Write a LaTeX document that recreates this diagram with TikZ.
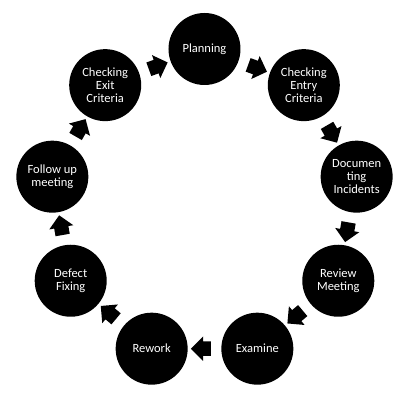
\documentclass[tikz,border=0pt]{standalone}
\usepackage{fontspec}
\setmainfont{Carlito}
\usetikzlibrary{calc,shapes.arrows}

\tikzset{
  stage/.style={circle, fill=black, text=white, minimum size=72pt, inner sep=0pt,
    align=center, font=\fontsize{12.5}{13}\selectfont},
  flow/.style={single arrow, fill=black, minimum height=20pt, inner xsep=0pt,
    inner ysep=7pt, single arrow head extend=5pt, single arrow tip angle=90}
}

\begin{document}
\begin{tikzpicture}[x=1pt,y=1pt]
\useasboundingbox (-204.5,-199.5) rectangle (213.5,203.5);

% Stages of the cycle
\node[stage] (plan) at (90:154.5) {Planning};
\node[stage] (entry) at (50:154.5) {Checking\\Entry\\Criteria};
\node[stage] (docu) at (10:154.5) {Documen\\ting\\Incidents};
\node[stage] (review) at (-30:154.5) {Review\\Meeting};
\node[stage] (exam) at (-70:154.5) {Examine};
\node[stage] (rework) at (-110:154.5) {Rework};
\node[stage] (fix) at (-150:154.5) {Defect\\Fixing};
\node[stage] (follow) at (170:154.5) {Follow up\\meeting};
\node[stage] (exit) at (130:154.5) {Checking\\Exit\\Criteria};

% Block arrows between stages
\node[flow, rotate=-20] (plan-entry) at ($(plan)!0.5!(entry)$) {};
\node[flow, rotate=-60] (entry-docu) at ($(entry)!0.5!(docu)$) {};
\node[flow, rotate=-100] (docu-review) at ($(docu)!0.5!(review)$) {};
\node[flow, rotate=-140] (review-exam) at ($(review)!0.5!(exam)$) {};
\node[flow, rotate=180] (exam-rework) at ($(exam)!0.5!(rework)$) {};
\node[flow, rotate=140] (rework-fix) at ($(rework)!0.5!(fix)$) {};
\node[flow, rotate=100] (fix-follow) at ($(fix)!0.5!(follow)$) {};
\node[flow, rotate=60] (follow-exit) at ($(follow)!0.5!(exit)$) {};
\node[flow, rotate=20] (exit-plan) at ($(exit)!0.5!(plan)$) {};

\end{tikzpicture}
\end{document}
